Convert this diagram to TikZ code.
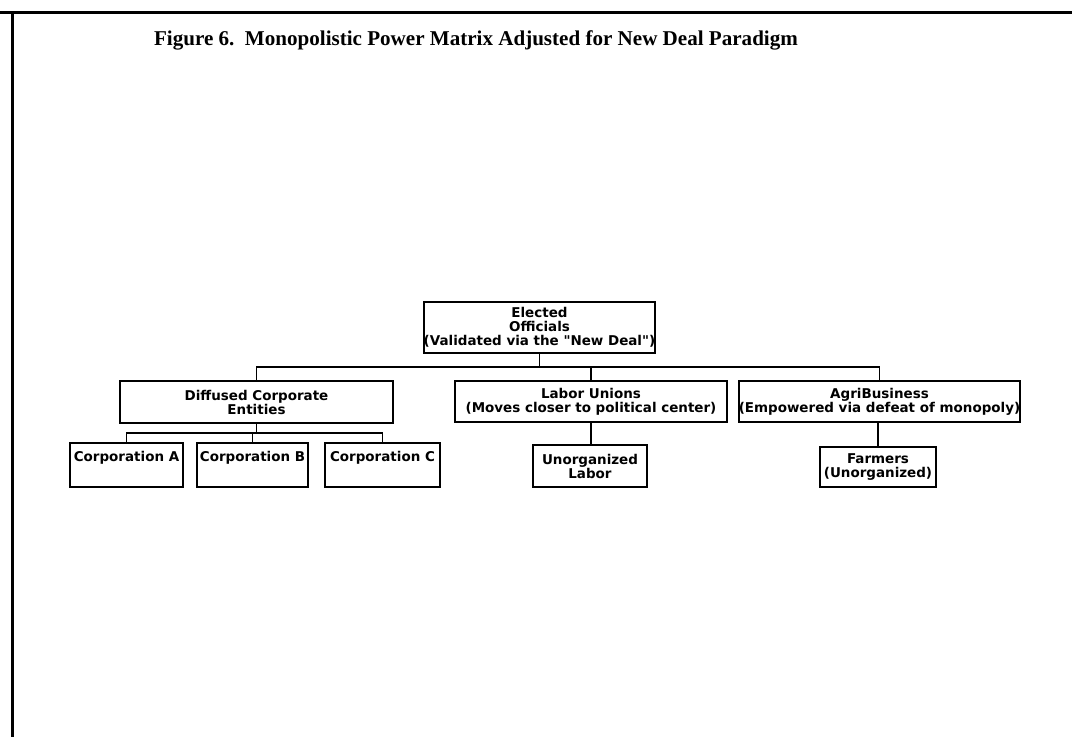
\documentclass[tikz,border=0pt]{standalone}
\usepackage{fontspec}
\setmainfont{Liberation Serif}
\newfontfamily\chartfont{DejaVu Sans}
\tikzset{
  orgbox/.style={draw=black, line width=1.5pt, align=center, inner sep=0pt,
    font=\chartfont\bfseries\fontsize{10.1pt}{10.5pt}\selectfont},
  conn/.style={draw=black, line width=0.8pt},
  frame/.style={draw=black, line width=2.25pt}
}
\begin{document}
\begin{tikzpicture}[x=0.75pt, y=-0.75pt]
\useasboundingbox (0,0) rectangle (1072,737);
% page frame: top rule and left rule
\coordinate (ftl) at (12,13);
\coordinate (ftr) at (1072,13);
\coordinate (fbl) at (12,737);
\draw[frame] (0,13) -- (ftr);
\draw[frame] (ftl) -- (fbl);

% title
\node[font=\bfseries\fontsize{15.8pt}{18pt}\selectfont, inner sep=0pt] (title) at (476,40)
  {Figure 6.\ \ Monopolistic Power Matrix Adjusted for New Deal Paradigm};

% chart boxes
\node[orgbox, minimum width=165.75pt, minimum height=38.25pt] (top) at (539.5,327.5)
  {Elected\\Officials\\(Validated via the "New Deal")};
\node[orgbox, minimum width=204.75pt, minimum height=31.5pt] (diff) at (256.5,402)
  {Diffused Corporate\\Entities};
\node[orgbox, minimum width=204pt, minimum height=30.75pt] (labor) at (591,401.5)
  {Labor Unions\\(Moves closer to political center)};
\node[orgbox, minimum width=206.25pt, minimum height=30.75pt] (agri) at (879.5,401.5)
  {AgriBusiness\\(Empowered via defeat of monopoly)};
\node[orgbox, minimum width=84.75pt, minimum height=33pt] (ca) at (126.5,465)
  {Corporation A\\\strut};
\node[orgbox, minimum width=83.25pt, minimum height=33pt] (cb) at (252.5,465)
  {Corporation B\\\strut};
\node[orgbox, minimum width=86.25pt, minimum height=33pt] (cc) at (382.5,465)
  {Corporation C\\\strut};
\node[orgbox, minimum width=85.5pt, minimum height=31.5pt] (unorg) at (590,466)
  {Unorganized\\Labor};
\node[orgbox, minimum width=87pt, minimum height=30pt] (farm) at (878,467)
  {Farmers\\(Unorganized)};

% connector levels
\coordinate (bus) at (0,367);
\coordinate (sub) at (0,433);

\draw[conn] (top.south) -- (top.south |- bus);
\draw[conn] (diff.north) -- (diff.north |- bus) -- (agri.north |- bus) -- (agri.north);
\draw[conn] (labor.north) -- (labor.north |- bus);
\draw[conn] (diff.south) -- (diff.south |- sub);
\draw[conn] (ca.north) -- (ca.north |- sub) -- (cc.north |- sub) -- (cc.north);
\draw[conn] (cb.north) -- (cb.north |- sub);
\draw[conn] (labor.south) -- (labor.south |- unorg.north);
\draw[conn] (farm.north) -- (farm.north |- agri.south);
\end{tikzpicture}
\end{document}
